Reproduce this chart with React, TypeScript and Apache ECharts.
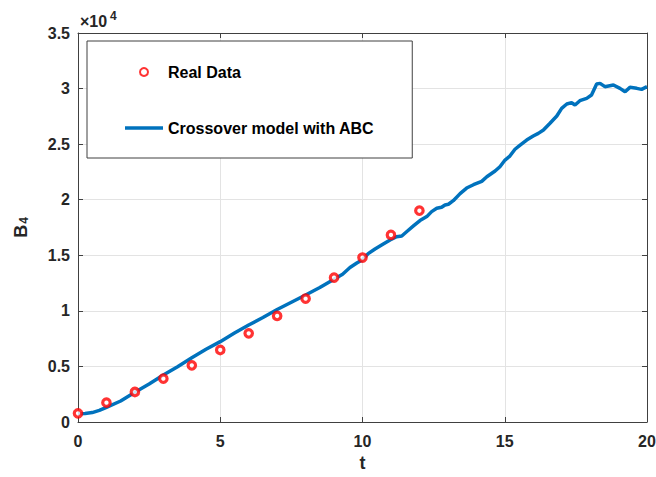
import React, { useEffect, useRef } from "react";
import * as echarts from "echarts";

// Real data (B4) at t = 0..12
const realT = [0, 1, 2, 3, 4, 5, 6, 7, 8, 9, 10, 11, 12];
const realB = [780, 1740, 2700, 3900, 5100, 6480, 7980, 9540, 11100, 12990, 14790, 16830, 19010];

// Crossover model with ABC
const modelT = [
  0, 0.25, 0.5, 0.75, 1, 1.5, 2, 2.5, 3, 3.5, 4, 4.5, 5, 5.5, 6, 6.5, 7, 7.5, 8, 8.5, 9, 9.3, 9.56, 9.8,
  10.0, 10.2, 10.44, 10.73, 10.97, 11.2, 11.38, 11.55, 11.79, 12.02, 12.26, 12.43, 12.61, 12.78, 12.9,
  13.02, 13.19, 13.43, 13.66, 13.9, 14.19, 14.37, 14.66, 14.83, 15.01, 15.18, 15.36, 15.54, 15.77, 16.0,
  16.18, 16.36, 16.59, 16.83, 17.0, 17.18, 17.35, 17.47, 17.64, 17.88, 18.05, 18.23, 18.35, 18.52, 18.82,
  19.05, 19.23, 19.4, 19.64, 19.81, 20.0,
];
const modelB = [
  750, 760, 850, 1050, 1320, 1890, 2670, 3420, 4230, 4980, 5790, 6540, 7230, 8000, 8730, 9400, 10120, 10780,
  11430, 12100, 12850, 13300, 13900, 14300, 14600, 15150, 15570, 16020, 16380, 16670, 16740, 17120, 17640,
  18120, 18480, 18930, 19230, 19320, 19530, 19590, 19910, 20550, 21050, 21350, 21650, 22070, 22580, 22970,
  23570, 23930, 24540, 24920, 25370, 25730, 25970, 26270, 26880, 27530, 28220, 28610, 28730, 28520, 28910,
  29120, 29420, 30410, 30470, 30170, 30320, 30020, 29720, 30110, 30020, 29930, 30170,
];

const xTicks = { min: 0, max: 20, interval: 5 };
const yTicks = { min: 0, max: 35000, interval: 5000 };

const FONT = "'Liberation Sans', Arial, Helvetica, sans-serif";
const AXIS_COLOR = "#404040";
const LABEL_COLOR = "#262626";

export default function App() {
  const ref = useRef<HTMLDivElement>(null);

  useEffect(() => {
    if (!ref.current) return;
    document.body.style.margin = "0";
    const chart = echarts.init(ref.current, undefined, { renderer: "svg" });

    const axisCommon = {
      axisLine: { show: true, onZero: false, lineStyle: { color: AXIS_COLOR, width: 1 } },
      axisTick: { show: true, inside: true, length: 5, lineStyle: { color: AXIS_COLOR } },
    };
    const yFmt = (v: number) => (v === 0 ? "0" : String(v / 10000));

    chart.setOption({
      animation: false,
      backgroundColor: "#ffffff",
      textStyle: { fontFamily: FONT },
      grid: { left: 78, right: 9, top: 33, bottom: 55, containLabel: false, outerBoundsMode: "none" },
      legend: {
        orient: "vertical",
        left: 87,
        top: 41,
        padding: [23, 38, 22, 38],
        itemGap: 40,
        itemWidth: 38,
        itemHeight: 8,
        backgroundColor: "#ffffff",
        borderColor: "#404040",
        borderWidth: 1,
        borderRadius: 0,
        textStyle: { fontFamily: FONT, fontSize: 16, fontWeight: "bold", color: "#000", lineHeight: 16 },
        data: [
          { name: "Real Data" },
          { name: "Crossover model with ABC", icon: "path://M0 0H38V3.6H0Z" },
        ],
        z: 10,
      },
      xAxis: [
        {
          type: "value",
          ...xTicks,
          position: "bottom",
          ...axisCommon,
          name: "t",
          nameLocation: "middle",
          nameGap: 31,
          nameTextStyle: { fontFamily: FONT, fontSize: 18, fontWeight: "bold", color: LABEL_COLOR },
          axisLabel: { margin: 11, fontFamily: FONT, fontSize: 16, fontWeight: "bold", color: LABEL_COLOR },
          splitLine: { show: true, lineStyle: { color: "#e3e3e3", width: 1 } },
        },
        {
          type: "value",
          ...xTicks,
          position: "top",
          ...axisCommon,
          axisLabel: { show: false },
          splitLine: { show: false },
        },
      ],
      yAxis: [
        {
          type: "value",
          ...yTicks,
          position: "left",
          ...axisCommon,
          name: "{b|B}{s|4}",
          nameLocation: "middle",
          nameRotate: 90,
          nameGap: 48,
          nameTextStyle: {
            rich: {
              b: { fontFamily: FONT, fontSize: 18, fontWeight: "bold", color: LABEL_COLOR, lineHeight: 18, verticalAlign: "top" },
              s: { fontFamily: FONT, fontSize: 12, fontWeight: "bold", color: LABEL_COLOR, lineHeight: 12, padding: [16, 0, 0, 1], verticalAlign: "bottom" },
            },
          },
          axisLabel: { margin: 8, fontFamily: FONT, fontSize: 16, fontWeight: "bold", color: LABEL_COLOR, formatter: yFmt },
          splitLine: { show: true, lineStyle: { color: "#e3e3e3", width: 1 } },
        },
        {
          type: "value",
          ...yTicks,
          position: "right",
          ...axisCommon,
          axisLabel: { show: false },
          splitLine: { show: false },
        },
      ],
      graphic: [
        {
          type: "text",
          x: 80,
          y: 29,
          style: { text: "×10", font: `bold 16px ${FONT}`, fill: LABEL_COLOR, verticalAlign: "bottom", align: "left" },
        },
        {
          type: "text",
          x: 110,
          y: 10,
          style: { text: "4", font: `bold 12px ${FONT}`, fill: LABEL_COLOR, verticalAlign: "top", align: "left" },
        },
      ],
      series: [
        {
          name: "Crossover model with ABC",
          type: "line",
          xAxisIndex: 0,
          yAxisIndex: 0,
          data: modelT.map((t, i) => [t, modelB[i]]),
          symbol: "none",
          smooth: false,
          lineStyle: { color: "#0072BD", width: 3.5 },
          itemStyle: { color: "#0072BD" },
          z: 2,
        },
        {
          name: "Real Data",
          type: "scatter",
          xAxisIndex: 0,
          yAxisIndex: 0,
          data: realT.map((t, i) => [t, realB[i]]),
          symbol: "circle",
          symbolSize: 7.5,
          itemStyle: { color: "#ffffff", borderColor: "#ff0000", borderWidth: 3.2 },
          z: 3,
        },
      ],
    });

    return () => chart.dispose();
  }, []);

  return <div ref={ref} style={{ width: 656, height: 477 }} />;
}
